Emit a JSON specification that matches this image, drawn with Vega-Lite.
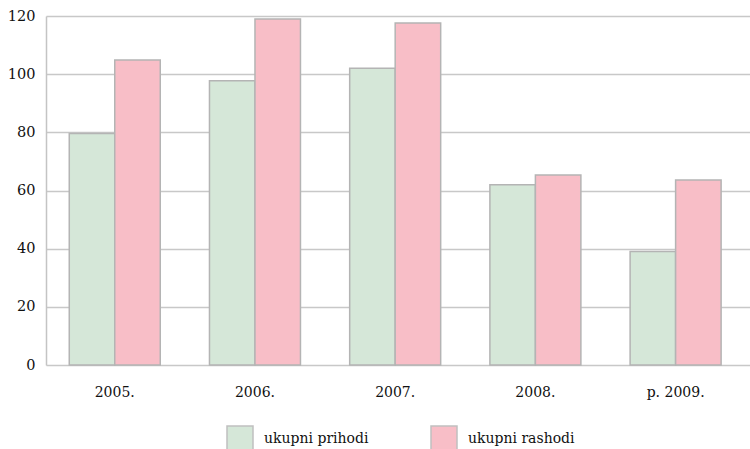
{
  "$schema": "https://vega.github.io/schema/vega-lite/v6.json",
  "width": 704,
  "height": 349,
  "autosize": {"type": "none"},
  "padding": {"left": 46, "top": 16, "right": 0, "bottom": 84},
  "background": "white",
  "data": {
    "values": [
      {"year": "2005.", "series": "ukupni prihodi", "value": 79.6},
      {"year": "2005.", "series": "ukupni rashodi", "value": 104.9},
      {"year": "2006.", "series": "ukupni prihodi", "value": 97.7},
      {"year": "2006.", "series": "ukupni rashodi", "value": 119.0},
      {"year": "2007.", "series": "ukupni prihodi", "value": 102.0},
      {"year": "2007.", "series": "ukupni rashodi", "value": 117.6},
      {"year": "2008.", "series": "ukupni prihodi", "value": 62.0},
      {"year": "2008.", "series": "ukupni rashodi", "value": 65.3},
      {"year": "p. 2009.", "series": "ukupni prihodi", "value": 39.0},
      {"year": "p. 2009.", "series": "ukupni rashodi", "value": 63.6}
    ]
  },
  "mark": {"type": "bar", "stroke": "#b4b4b4", "strokeWidth": 1.5},
  "encoding": {
    "x": {
      "field": "year",
      "type": "nominal",
      "sort": null,
      "scale": {"paddingInner": 0.351, "paddingOuter": 0.186, "align": 0.446},
      "axis": {
        "title": null,
        "labelAngle": 0,
        "ticks": false,
        "domain": false,
        "labelPadding": 20,
        "labelFont": "DejaVu Serif",
        "labelFontSize": 14,
        "labelColor": "#111111"
      }
    },
    "xOffset": {"field": "series", "type": "nominal"},
    "y": {
      "field": "value",
      "type": "quantitative",
      "scale": {"domain": [0, 120]},
      "axis": {
        "title": null,
        "values": [0, 20, 40, 60, 80, 100, 120],
        "ticks": false,
        "domain": true,
        "domainColor": "#c4c4c4",
        "domainWidth": 1.5,
        "grid": true,
        "gridColor": "#c8c8c8",
        "gridWidth": 1.5,
        "labelPadding": 11,
        "labelFont": "DejaVu Serif",
        "labelFontSize": 14.5,
        "labelColor": "#111111"
      }
    },
    "color": {
      "field": "series",
      "type": "nominal",
      "scale": {"domain": ["ukupni prihodi", "ukupni rashodi"], "range": ["#d5e7d8", "#f8bec7"]},
      "legend": {
        "title": null,
        "orient": "none",
        "legendX": 180,
        "legendY": 409,
        "direction": "horizontal",
        "columns": 2,
        "columnPadding": 59,
        "symbolType": "square",
        "symbolSize": 676,
        "symbolStrokeColor": "#c0c0c0",
        "symbolStrokeWidth": 1.5,
        "labelOffset": 10,
        "labelFont": "DejaVu Serif",
        "labelFontSize": 14,
        "labelColor": "#111111"
      }
    }
  },
  "config": {"view": {"stroke": null}}
}
